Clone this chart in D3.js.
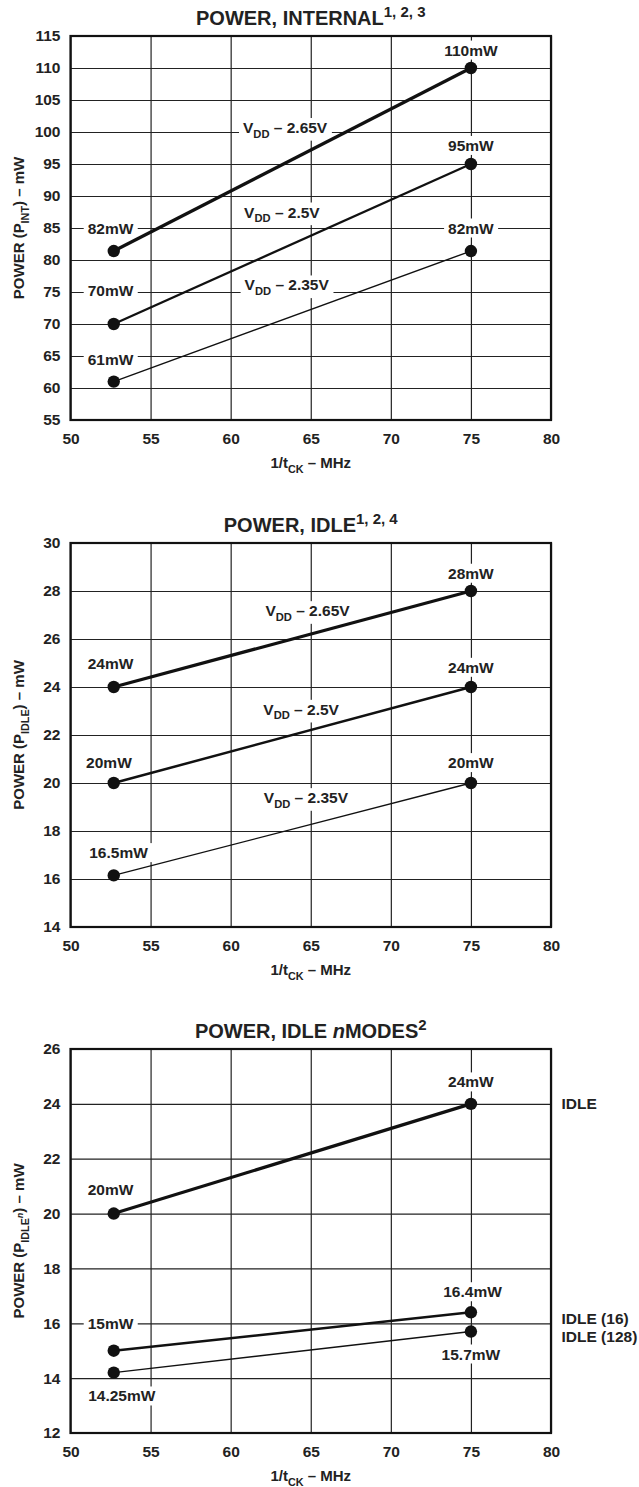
<!DOCTYPE html>
<html>
<head>
<meta charset="utf-8">
<script src="https://cdn.jsdelivr.net/npm/d3@7"></script>
<style>
  body { margin: 0; background: #fff; }
  text { font-family: "Liberation Sans", Arial, sans-serif; font-weight: bold; fill: #222; white-space: pre; }
</style>
</head>
<body>
<div id="chart"></div>
<script>
// Tick values
const xTicks = [50, 55, 60, 65, 70, 75, 80];
const intTicks = [55, 60, 65, 70, 75, 80, 85, 90, 95, 100, 105, 110, 115];
const idleTicks = [14, 16, 18, 20, 22, 24, 26, 28, 30];
const modeTicks = [12, 14, 16, 18, 20, 22, 24, 26];

// Clock frequency of the measured points (MHz)
const freqMHz = [52.7, 75];

// Power, internal (mW)
const int265 = [81.4, 110];
const int250 = [70, 95];
const int235 = [61, 81.4];

// Power, idle (mW)
const idle265 = [24, 28];
const idle250 = [20, 24];
const idle235 = [16.15, 20];

// Power, idle n modes (mW)
const modeIdle = [20, 24];
const modeIdle16 = [15, 16.4];
const modeIdle128 = [14.2, 15.7];

// rich text helpers
const sub = t => ({ t, scale: 0.72, shift: 0.3 });
const sup = t => ({ t, scale: 0.75, shift: -0.42 });
const vdd = v => [{ t: 'V' }, sub('DD'), { t: ' \u2013 ' + v }];
const mw = t => [{ t }];

const W = 639, H = 1487;
const plotLeft = 70.5, plotRight = 551, plotH = 384;

const svg = d3.select('#chart')
    .append('svg')
    .attr('width', W)
    .attr('height', H);

function rich(text, parts, size) {
    let cur = 0;
    parts.forEach(p => {
        const s = p.shift || 0;
        const ts = text.append('tspan')
            .attr('font-size', size * (p.scale || 1))
            .attr('dy', (s - cur) * size)
            .text(p.t);
        if (p.it) ts.attr('font-style', 'italic');
        cur = s;
    });
}

function drawChart(cfg) {
    const top = cfg.top;
    const bottom = top + plotH;
    const x = d3.scaleLinear().domain([50, 80]).range([plotLeft, plotRight]);
    const y = d3.scaleLinear().domain(cfg.yDomain).range([bottom, top]);
    const g = svg.append('g');

    // grid + tick labels from the axes
    const xAxis = g.append('g')
        .attr('transform', `translate(0,${bottom})`)
        .call(d3.axisBottom(x).tickValues(xTicks).tickSize(-plotH).tickPadding(13));
    const yAxis = g.append('g')
        .attr('transform', `translate(${plotLeft},0)`)
        .call(d3.axisLeft(y).tickValues(cfg.yTicks).tickSize(-(plotRight - plotLeft)).tickPadding(10));
    [xAxis, yAxis].forEach(a => {
        a.attr('color', '#222').attr('font-family', null).attr('font-size', null);
        a.select('.domain').remove();
        a.selectAll('line').attr('stroke-width', 1.2);
        a.selectAll('text').attr('font-size', 15.5).attr('fill', '#222');
    });

    // frame
    g.append('rect')
        .attr('x', plotLeft).attr('y', top)
        .attr('width', plotRight - plotLeft).attr('height', plotH)
        .attr('fill', 'none').attr('stroke', '#111').attr('stroke-width', 2.2);

    // title
    const title = g.append('text')
        .attr('x', (plotLeft + plotRight) / 2)
        .attr('y', top - 11)
        .attr('text-anchor', 'middle');
    rich(title, cfg.title, 20);

    // axis titles
    const xt = g.append('text')
        .attr('x', (plotLeft + plotRight) / 2)
        .attr('y', bottom + 48)
        .attr('text-anchor', 'middle');
    rich(xt, [{ t: '1/t' }, sub('CK'), { t: ' \u2013 MHz' }], 15);

    const yt = g.append('text')
        .attr('transform', `translate(24,${(top + bottom) / 2}) rotate(-90)`)
        .attr('text-anchor', 'middle');
    rich(yt, cfg.yTitle, 15);

    // point and curve labels with white backing
    cfg.labels.forEach(l => {
        const lg = g.append('g');
        const t = lg.append('text')
            .attr('x', x(l.x) + (l.dx || 0))
            .attr('y', y(l.y) + 5.5)
            .attr('text-anchor', l.anchor || 'middle');
        rich(t, l.p, 15.5);
        if (l.bg !== false) {
            const b = t.node().getBBox();
            lg.insert('rect', 'text')
                .attr('x', b.x - 4).attr('y', b.y - 1)
                .attr('width', b.width + 8).attr('height', b.height + 2)
                .attr('fill', '#fff');
        }
    });

    // lines and points
    const line = d3.line()
        .x((d, i) => x(freqMHz[i]))
        .y(d => y(d));
    cfg.series.forEach(s => {
        g.append('path')
            .datum(s.vals)
            .attr('d', line)
            .attr('fill', 'none')
            .attr('stroke', '#111')
            .attr('stroke-width', s.w);
        g.selectAll(null)
            .data(s.vals)
            .join('circle')
            .attr('cx', (d, i) => x(freqMHz[i]))
            .attr('cy', d => y(d))
            .attr('r', 6.2)
            .attr('fill', '#111');
    });
}

drawChart({
    top: 36,
    yDomain: [55, 115],
    yTicks: intTicks,
    title: [{ t: 'POWER, INTERNAL' }, sup('1, 2, 3')],
    yTitle: [{ t: 'POWER (P' }, sub('INT'), { t: ') \u2013 mW' }],
    series: [{ vals: int265, w: 3.2 }, { vals: int250, w: 2.3 }, { vals: int235, w: 1.4 }],
    labels: [
        { x: 75, y: 112.8, p: mw('110mW') },
        { x: 75, y: 97.9, p: mw('95mW') },
        { x: 75, y: 85, p: mw('82mW') },
        { x: 52.5, y: 85, p: mw('82mW') },
        { x: 52.5, y: 75.3, p: mw('70mW') },
        { x: 52.5, y: 64.4, p: mw('61mW') },
        { x: 63.4, y: 100.7, p: vdd('2.65V') },
        { x: 63.2, y: 87.5, p: vdd('2.5V') },
        { x: 63.5, y: 76.1, p: vdd('2.35V') }
    ]
});

drawChart({
    top: 543,
    yDomain: [14, 30],
    yTicks: idleTicks,
    title: [{ t: 'POWER, IDLE' }, sup('1, 2, 4')],
    yTitle: [{ t: 'POWER (P' }, sub('IDLE'), { t: ') \u2013 mW' }],
    series: [{ vals: idle265, w: 3.2 }, { vals: idle250, w: 2.5 }, { vals: idle235, w: 1.4 }],
    labels: [
        { x: 75, y: 28.74, p: mw('28mW') },
        { x: 64.8, y: 27.18, p: vdd('2.65V') },
        { x: 52.5, y: 25, p: mw('24mW') },
        { x: 75, y: 24.82, p: mw('24mW') },
        { x: 64.4, y: 23.07, p: vdd('2.5V') },
        { x: 52.4, y: 20.85, p: mw('20mW') },
        { x: 75, y: 20.85, p: mw('20mW') },
        { x: 64.7, y: 19.39, p: vdd('2.35V') },
        { x: 53, y: 17.1, p: mw('16.5mW') }
    ]
});

drawChart({
    top: 1049,
    yDomain: [12, 26],
    yTicks: modeTicks,
    title: [{ t: 'POWER, IDLE ' }, { t: 'n', it: true }, { t: 'MODES' }, sup('2')],
    yTitle: [{ t: 'POWER (P' }, sub('IDLE'), { t: 'n', scale: 0.6, shift: -0.05, it: true }, { t: ') \u2013 mW' }],
    series: [{ vals: modeIdle, w: 3.2 }, { vals: modeIdle16, w: 2.5 }, { vals: modeIdle128, w: 1.4 }],
    labels: [
        { x: 75, y: 24.8, p: mw('24mW') },
        { x: 52.5, y: 20.87, p: mw('20mW') },
        { x: 75.1, y: 17.15, p: mw('16.4mW') },
        { x: 52.5, y: 16.0, p: mw('15mW') },
        { x: 75, y: 14.88, p: mw('15.7mW') },
        { x: 53.2, y: 13.35, p: mw('14.25mW') },
        { x: 80, dx: 10.5, anchor: 'start', bg: false, y: 24.0, p: mw('IDLE') },
        { x: 80, dx: 10.5, anchor: 'start', bg: false, y: 16.18, p: mw('IDLE (16)') },
        { x: 80, dx: 10.5, anchor: 'start', bg: false, y: 15.52, p: mw('IDLE (128)') }
    ]
});
</script>
</body>
</html>
